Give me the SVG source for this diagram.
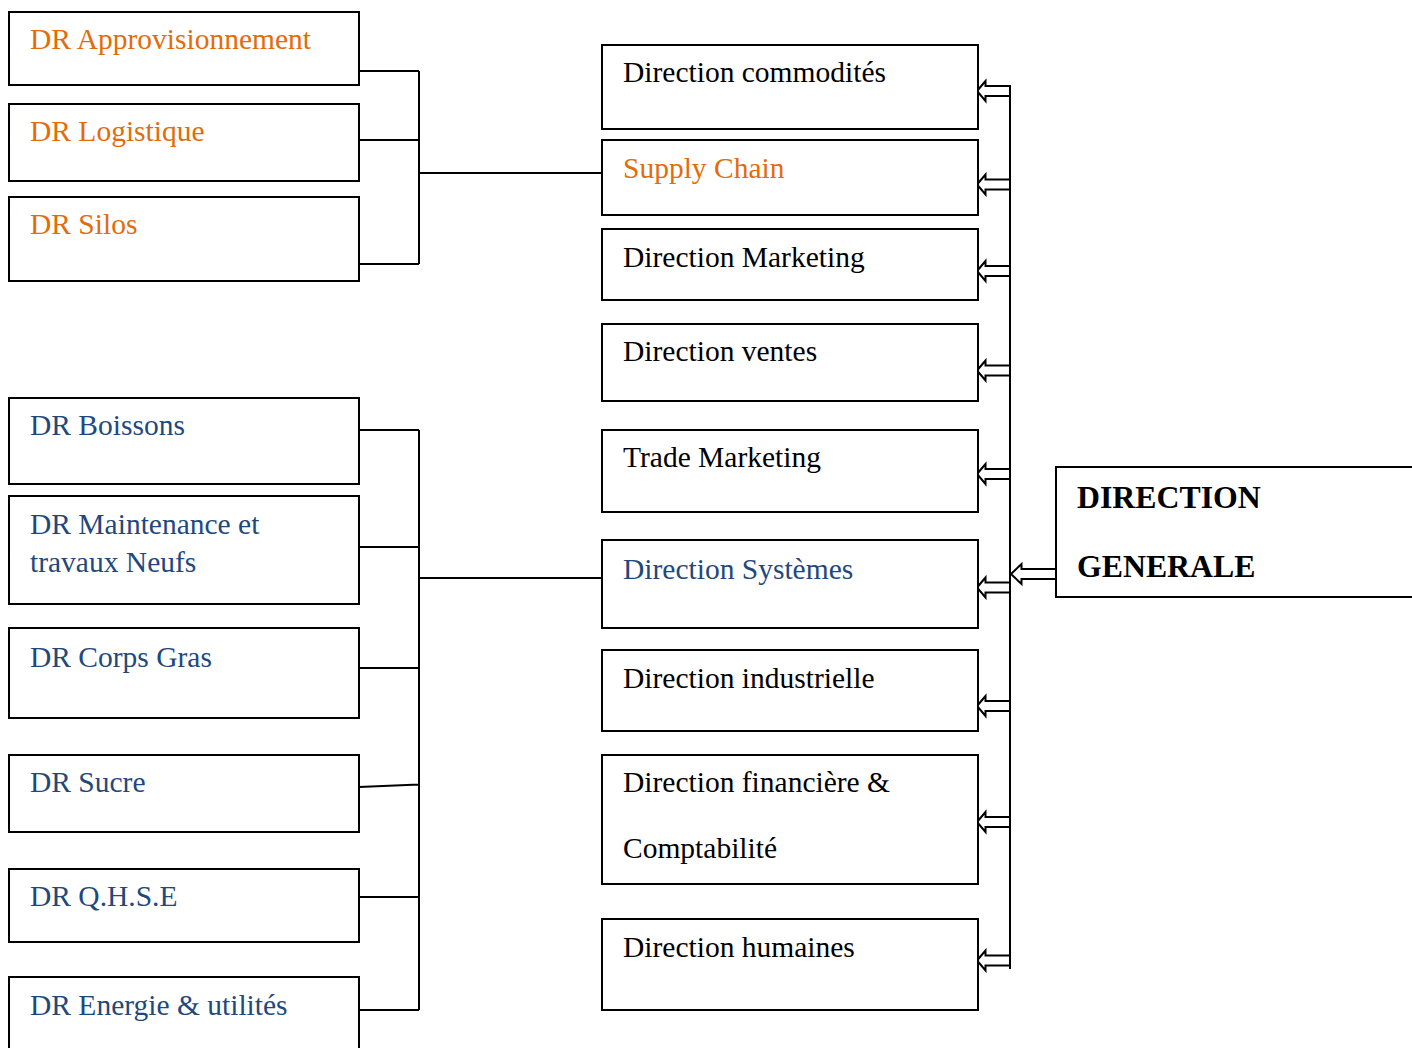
<svg xmlns="http://www.w3.org/2000/svg" width="1412" height="1048" viewBox="0 0 1412 1048">
  <style>
    .box { fill: #ffffff; stroke: #000000; stroke-width: 2; }
    .line { fill: none; stroke: #000000; stroke-width: 2; }
    .arrow { fill: #ffffff; stroke: #000000; stroke-width: 2; stroke-linejoin: miter; }
    text { font-family: "Liberation Serif", "Times New Roman", serif; font-size: 29.5px; }
    .orange { fill: #E36C0A; }
    .blue { fill: #1F497D; }
    .black { fill: #000000; }
    .dg { font-weight: bold; font-size: 31.8px; fill: #000000; }
  </style>

  <rect width="1412" height="1048" fill="#ffffff"/>

  <!-- connectors -->
  <g id="connectors">
    <!-- supply chain regional directions -->
    <path class="line" d="M359,71 H419 M359,140 H419 M359,264 H419 M419,71 V264 M419,173 H602"/>
    <!-- systems / industrial regional directions -->
    <path class="line" d="M359,787 L419,784.5 M359,430 H419 M359,547 H419 M359,668 H419 M359,897 H419 M359,1010 H419 M419,430 V1010 M419,578 H602"/>
    <!-- distribution bar from the general management -->
    <path class="line" d="M1010,85 V969"/>
    <!-- hollow left-pointing block arrows into each direction -->
    <path class="arrow" d="M977,91 L985.5,81 L985.5,86 L1010,86 L1010,96 L985.5,96 L985.5,101 Z"/>
    <path class="arrow" d="M977,184.5 L985.5,174.5 L985.5,179.5 L1010,179.5 L1010,189.5 L985.5,189.5 L985.5,194.5 Z"/>
    <path class="arrow" d="M977,271 L985.5,261 L985.5,266 L1010,266 L1010,276 L985.5,276 L985.5,281 Z"/>
    <path class="arrow" d="M977,370.5 L985.5,360.5 L985.5,365.5 L1010,365.5 L1010,375.5 L985.5,375.5 L985.5,380.5 Z"/>
    <path class="arrow" d="M977,474 L985.5,464 L985.5,469 L1010,469 L1010,479 L985.5,479 L985.5,484 Z"/>
    <path class="arrow" d="M977,587.5 L985.5,577.5 L985.5,582.5 L1010,582.5 L1010,592.5 L985.5,592.5 L985.5,597.5 Z"/>
    <path class="arrow" d="M977,706 L985.5,696 L985.5,701 L1010,701 L1010,711 L985.5,711 L985.5,716 Z"/>
    <path class="arrow" d="M977,822 L985.5,812 L985.5,817 L1010,817 L1010,827 L985.5,827 L985.5,832 Z"/>
    <path class="arrow" d="M977,960.5 L985.5,950.5 L985.5,955.5 L1010,955.5 L1010,965.5 L985.5,965.5 L985.5,970.5 Z"/>
    <!-- general management to the bar -->
    <path class="arrow" d="M1011,574 L1021.5,564 L1021.5,569 L1056,569 L1056,579 L1021.5,579 L1021.5,584 Z"/>
  </g>

  <!-- supply chain regional directions -->
  <g id="dr-approvisionnement">
    <rect class="box" x="9" y="12" width="350" height="73"/>
    <text class="orange" x="30" y="49">DR Approvisionnement</text>
  </g>
  <g id="dr-logistique">
    <rect class="box" x="9" y="104" width="350" height="77"/>
    <text class="orange" x="30" y="141">DR Logistique</text>
  </g>
  <g id="dr-silos">
    <rect class="box" x="9" y="197" width="350" height="84"/>
    <text class="orange" x="30" y="234">DR Silos</text>
  </g>

  <!-- systems / industrial regional directions -->
  <g id="dr-boissons">
    <rect class="box" x="9" y="398" width="350" height="86"/>
    <text class="blue" x="30" y="435">DR Boissons</text>
  </g>
  <g id="dr-maintenance">
    <rect class="box" x="9" y="496" width="350" height="108"/>
    <text class="blue" x="30" y="534">DR Maintenance et</text>
    <text class="blue" x="30" y="572">travaux Neufs</text>
  </g>
  <g id="dr-corps-gras">
    <rect class="box" x="9" y="628" width="350" height="90"/>
    <text class="blue" x="30" y="667">DR Corps Gras</text>
  </g>
  <g id="dr-sucre">
    <rect class="box" x="9" y="755" width="350" height="77"/>
    <text class="blue" x="30" y="792">DR Sucre</text>
  </g>
  <g id="dr-qhse">
    <rect class="box" x="9" y="869" width="350" height="73"/>
    <text class="blue" x="30" y="906">DR Q.H.S.E</text>
  </g>
  <g id="dr-energie">
    <rect class="box" x="9" y="977" width="350" height="90"/>
    <text class="blue" x="30" y="1015">DR Energie &amp; utilités</text>
  </g>

  <!-- central directions -->
  <g id="direction-commodites">
    <rect class="box" x="602" y="45" width="376" height="84"/>
    <text class="black" x="623" y="82">Direction commodités</text>
  </g>
  <g id="supply-chain">
    <rect class="box" x="602" y="140" width="376" height="75"/>
    <text class="orange" x="623" y="178">Supply Chain</text>
  </g>
  <g id="direction-marketing">
    <rect class="box" x="602" y="229" width="376" height="71"/>
    <text class="black" x="623" y="267">Direction Marketing</text>
  </g>
  <g id="direction-ventes">
    <rect class="box" x="602" y="324" width="376" height="77"/>
    <text class="black" x="623" y="361">Direction ventes</text>
  </g>
  <g id="trade-marketing">
    <rect class="box" x="602" y="430" width="376" height="82"/>
    <text class="black" x="623" y="467">Trade Marketing</text>
  </g>
  <g id="direction-systemes">
    <rect class="box" x="602" y="540" width="376" height="88"/>
    <text class="blue" x="623" y="579">Direction Systèmes</text>
  </g>
  <g id="direction-industrielle">
    <rect class="box" x="602" y="650" width="376" height="81"/>
    <text class="black" x="623" y="688">Direction industrielle</text>
  </g>
  <g id="direction-financiere">
    <rect class="box" x="602" y="755" width="376" height="129"/>
    <text class="black" x="623" y="792">Direction financière &amp;</text>
    <text class="black" x="623" y="858">Comptabilité</text>
  </g>
  <g id="direction-humaines">
    <rect class="box" x="602" y="919" width="376" height="91"/>
    <text class="black" x="623" y="957">Direction humaines</text>
  </g>

  <!-- general management -->
  <g id="direction-generale">
    <rect class="box" x="1056" y="467" width="380" height="130"/>
    <text class="dg" x="1077" y="508">DIRECTION</text>
    <text class="dg" x="1077" y="577">GENERALE</text>
  </g>
</svg>
